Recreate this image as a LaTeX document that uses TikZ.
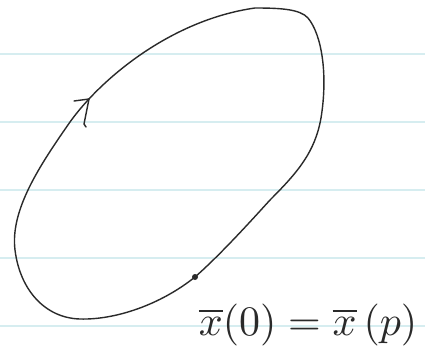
\documentclass[tikz,border=0pt]{standalone}
\definecolor{ruled}{HTML}{D6EDF0}
\definecolor{ink}{HTML}{2A2A2A}
\tikzset{
  rule/.style={draw=ruled, line width=1.2pt},
  inkline/.style={draw=ink, line width=1.4pt, line cap=round, line join=round},
  pointdot/.style={circle, fill=ink, inner sep=0pt, minimum size=6pt},
  lbl/.style={text=ink, inner sep=0pt, scale=4.2}
}
\begin{document}
\begin{tikzpicture}[x=1pt,y=-1pt]
\useasboundingbox (0,0) rectangle (425,354);
\fill[white] (0,0) rectangle (425,354);
\foreach \yy in {54,122,190,258,326} \draw[rule] (0,\yy) -- (425,\yy);
% closed loop
\draw[inkline] (255,8) .. controls (280,8) and (300,9) .. (308,18)
  .. controls (322,35) and (328,75) .. (321,118)
  .. controls (315,152) and (298,172) .. (270,200)
  .. controls (250,222) and (220,255) .. (195,277)
  .. controls (160,305) and (115,320) .. (80,319)
  .. controls (45,318) and (20,290) .. (15,250)
  .. controls (10,210) and (40,165) .. (70,122)
  .. controls (100,80) and (170,20) .. (255,8) -- cycle;
% arrowhead on the loop
\coordinate (tip) at (89,99);
\draw[inkline] (tip) -- (74,101);
\draw[inkline] (tip) -- (84,124) -- (86,127);
% marked point
\node[pointdot] (p) at (195,277) {};
\node[lbl, anchor=base west] (eq) at (198,335) {$\overline{x}(0)=\overline{x}\,(p)$};
\end{tikzpicture}
\end{document}
